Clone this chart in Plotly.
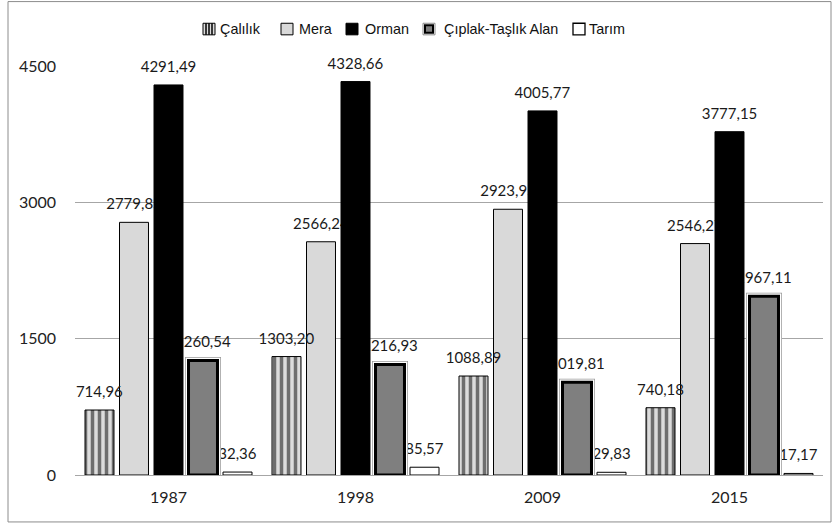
import plotly.graph_objects as go

# Land-cover areas per survey year
years = ["1987", "1998", "2009", "2015"]
calilik = [714.96, 1303.20, 1088.89, 740.18]
mera = [2779.85, 2566.24, 2923.95, 2546.27]
orman = [4291.49, 4328.66, 4005.77, 3777.15]
ciplak = [1260.54, 1216.93, 1019.81, 1967.11]
tarim = [32.36, 85.57, 29.83, 17.17]
y_ticks = [0, 1500, 3000, 4500]
Y_MAX = 4500

W, H = 834, 527
ML, MR, MT, MB = 75, 11, 65.5, 52
pw, ph = W - ML - MR, H - MT - MB

BAR_W = 0.155
PITCH = 0.1845
LABEL_LIFT = 7 * Y_MAX / ph  # extra space between a bar top and its label
LABEL_FONT = dict(family="Lato", size=15, color="#1a1a1a")
CLEAR = "rgba(0,0,0,0)"


def offset(slot, w=BAR_W):
    # slot 0..4 from left to right inside each year group
    return (slot - 2) * PITCH - w / 2


def fmt(v):
    return f"{v:.2f}".replace(".", ",")


def px_x(p):
    return (p - ML) / pw


def px_y(p):
    return (H - MB - p) / ph


# (name, values, slot, marker, under-layers) listed in drawing order so that
# later bars sit on top of neighbouring labels
series = [
    ("Tarım", tarim, 4,
     dict(color="white", line=dict(color="black", width=1)), []),
    ("Çıplak-Taşlık Alan", ciplak, 3,
     dict(color="#7f7f7f", line=dict(color="black", width=3)),
     [dict(color="white", line=dict(color="#9a9a9a", width=7)),
      dict(color="white", line=dict(color="white", width=5.5))]),
    ("Mera", mera, 1,
     dict(color="#d9d9d9", line=dict(color="black", width=1)), []),
    ("Orman", orman, 2,
     dict(color="black", line=dict(color="black", width=1)), []),
    ("Çalılık", calilik, 0,
     dict(color="#dcdcdc", line=dict(color="black", width=1),
          pattern=dict(shape="|", size=7, solidity=0.5,
                       fgcolor="black", bgcolor="#dcdcdc")), []),
]

fig = go.Figure()
for name, vals, slot, marker, under in series:
    for m in under:
        fig.add_trace(go.Bar(
            x=years, y=vals, width=BAR_W, offset=offset(slot), marker=m,
            showlegend=False, hoverinfo="skip", cliponaxis=False))
    fig.add_trace(go.Bar(
        x=years, y=vals, name=name, width=BAR_W, offset=offset(slot),
        marker=marker, showlegend=False, cliponaxis=False))
    # value labels, lifted a little above each bar
    fig.add_trace(go.Bar(
        x=years, y=[LABEL_LIFT] * len(vals), base=vals,
        width=BAR_W, offset=offset(slot),
        marker=dict(color=CLEAR, line=dict(width=0)),
        text=[fmt(v) for v in vals], texttemplate="%{text}",
        textposition="outside", textfont=LABEL_FONT,
        constraintext="none", cliponaxis=False,
        showlegend=False, hoverinfo="skip"))

# Legend drawn as swatches and text across the top
LEG_Y0, LEG_Y1, LEG_YC = 22.7, 34.3, 28.5
legend_items = [
    ("Çalılık", 203, 218),
    ("Mera", 281, 297),
    ("Orman", 346, 363),
    ("Çıplak-Taşlık Alan", 423, 442),
    ("Tarım", 573, 587),
]
shapes = [dict(type="rect", xref="paper", yref="paper",
               x0=px_x(8), x1=px_x(831), y0=px_y(522), y1=px_y(1),
               line=dict(color="#8c8c8c", width=1), layer="below")]


def swatch(x0, x1, y0, y1, fill, line_color, lw):
    return dict(type="rect", xref="paper", yref="paper",
                x0=px_x(x0), x1=px_x(x1), y0=px_y(y1), y1=px_y(y0),
                fillcolor=fill, line=dict(color=line_color, width=lw))


sx = {n: s for n, s, _ in legend_items}
# Çalılık: striped
shapes.append(swatch(sx["Çalılık"], sx["Çalılık"] + 12, LEG_Y0, LEG_Y1,
                     "#dcdcdc", "black", 1))
for dx in (3, 6, 9):
    shapes.append(dict(type="line", xref="paper", yref="paper",
                       x0=px_x(sx["Çalılık"] + dx), x1=px_x(sx["Çalılık"] + dx),
                       y0=px_y(LEG_Y1), y1=px_y(LEG_Y0),
                       line=dict(color="black", width=1.5)))
shapes.append(swatch(sx["Mera"], sx["Mera"] + 12, LEG_Y0, LEG_Y1,
                     "#d9d9d9", "black", 1))
shapes.append(swatch(sx["Orman"], sx["Orman"] + 12, LEG_Y0, LEG_Y1,
                     "black", "black", 1))
c0 = sx["Çıplak-Taşlık Alan"]
shapes.append(swatch(c0, c0 + 12, LEG_Y0, LEG_Y1, "white", "#8a8a8a", 1))
shapes.append(swatch(c0 + 2, c0 + 10, LEG_Y0 + 2, LEG_Y1 - 2,
                     "#7f7f7f", "black", 2))
shapes.append(swatch(sx["Tarım"], sx["Tarım"] + 12, LEG_Y0, LEG_Y1,
                     "white", "black", 1.3))

annotations = [
    dict(text=n, xref="paper", yref="paper", x=px_x(tx), y=px_y(LEG_YC),
         xanchor="left", yanchor="middle", showarrow=False,
         font=dict(family="Liberation Sans", size=14.4, color="#111"))
    for n, _, tx in legend_items
]

fig.update_layout(
    width=W, height=H,
    margin=dict(l=ML, r=MR, t=MT, b=MB),
    paper_bgcolor="white", plot_bgcolor="white",
    barmode="overlay", showlegend=False,
    xaxis=dict(type="category", range=[-0.5, 3.5], showgrid=False,
               showline=True, linecolor="#a6a6a6", linewidth=1,
               ticks="", tickfont=dict(family="Lato", size=16, color="#222"),
               ticklabelstandoff=8),
    yaxis=dict(range=[0, Y_MAX], tickvals=y_ticks, showgrid=True,
               gridcolor="#a6a6a6", gridwidth=1, zeroline=False,
               showline=False, ticks="",
               tickfont=dict(family="Lato", size=16, color="#222"),
               ticklabelstandoff=18),
    shapes=shapes,
    annotations=annotations,
)

fig.write_html("out.html")
